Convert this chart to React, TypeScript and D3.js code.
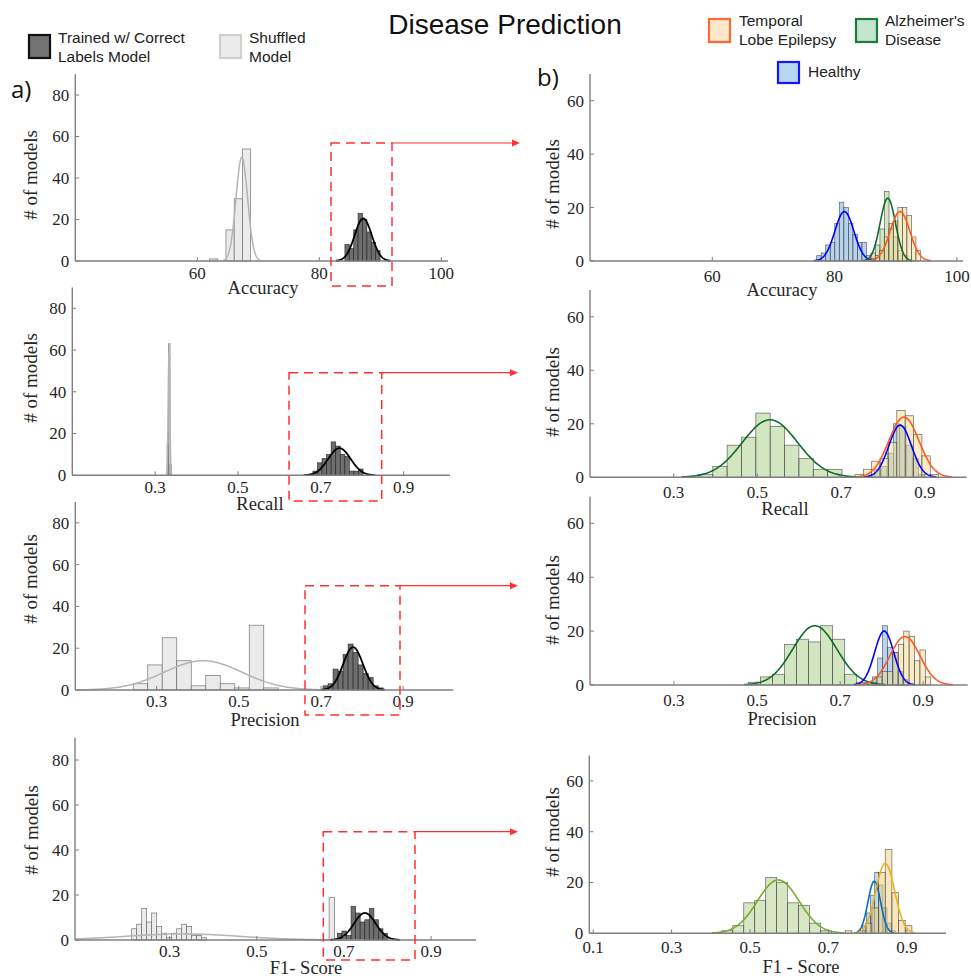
import React from "react";
import * as d3 from "d3";

// histogram bins: [left edge of first bin, bin width]; fit: [mean, sd, peak count]

// a) trained w/ correct labels vs shuffled
const accTrainedBins = [84.2, 0.72];
const accTrainedCounts = [8, 6, 15, 23, 20, 14, 9, 5];
const accTrainedFit = [87.2, 1.4, 20.5];
const accShuffledBins = [62.0, 1.35];
const accShuffledCounts = [1, 0, 15, 30, 54];
const accShuffledFit = [67.3, 0.95, 50];

const recTrainedBins = [0.681, 0.011];
const recTrainedCounts = [2, 6, 8, 10, 16, 14, 10, 9, 2, 2, 3];
const recTrainedFit = [0.745, 0.027, 13];
const recShuffledBins = [0.329, 0.0035];
const recShuffledCounts = [15, 63, 5];
const recShuffledFit = [0.3335, 0.002, 58];

const preTrainedBins = [0.705, 0.0122];
const preTrainedCounts = [2, 3, 10, 9, 17, 22, 18, 12, 8, 6, 2, 1];
const preTrainedFit = [0.778, 0.024, 20.5];
const preShuffledBins = [0.243, 0.0353];
const preShuffledCounts = [3, 12, 25, 14, 2, 7, 3, 1, 31, 1];
const preShuffledFit = [0.413, 0.095, 14];

const f1TrainedBins = [0.685, 0.01046];
const f1TrainedCounts = [3, 4, 2, 15, 12, 8, 9, 14, 9, 5, 3];
const f1TrainedFit = [0.748, 0.025, 12];
const f1ShuffledBins = [0.213, 0.01147];
const f1ShuffledCounts = [5, 7, 14, 8, 12, 6, 3, 1, 3, 5, 7, 6, 2, 2, 1];
const f1ShuffledBins2 = [0.666, 0.0125];
const f1ShuffledCounts2 = [19];
const f1ShuffledFit = [0.33, 0.13, 2.7];

// b) per disease
const accHealthyBins = [77.07, 0.74];
const accHealthyCounts = [2, 3, 6, 7, 14, 22, 20, 14, 10, 7, 7];
const accHealthyFit = [81.6, 1.55, 18.5];
const accAdBins = [85.2, 0.74];
const accAdCounts = [2, 3, 6, 12, 26, 14, 9, 4, 2];
const accAdFit = [88.7, 1.25, 23.5];
const accTleBins = [85.9, 0.74];
const accTleCounts = [1, 2, 4, 9, 12, 15, 20, 20, 17, 9, 4];
const accTleFit = [90.7, 1.6, 18.5];

const recHealthyBins = [0.765, 0.015];
const recHealthyCounts = [1, 3, 4, 9, 20, 19, 12, 7, 1];
const recHealthyFit = [0.841, 0.027, 19.5];
const recAdBins = [0.359, 0.0343];
const recAdCounts = [1, 4, 12, 15, 24, 19, 12, 7, 3, 3];
const recAdFit = [0.53, 0.066, 21.5];
const recTleBins = [0.733, 0.02];
const recTleCounts = [1, 3, 6, 7, 13, 25, 23, 16, 8, 1];
const recTleFit = [0.85, 0.036, 22.5];

const preHealthyBins = [0.766, 0.012];
const preHealthyCounts = [1, 3, 10, 22, 14, 12, 5, 2];
const preHealthyFit = [0.806, 0.023, 20];
const preAdBins = [0.479, 0.029];
const preAdCounts = [1, 3, 4, 15, 17, 16, 22, 17, 4, 1];
const preAdFit = [0.639, 0.053, 22];
const preTleBins = [0.775, 0.013];
const preTleCounts = [1, 3, 5, 5, 12, 15, 20, 18, 9, 13, 3];
const preTleFit = [0.856, 0.036, 18];

const f1HealthyBins = [0.776, 0.0105];
const f1HealthyCounts = [1, 3, 8, 15, 24, 19, 10, 4, 1];
const f1HealthyFit = [0.817, 0.016, 20.5];
const f1AdBins = [0.428, 0.028];
const f1AdCounts = [1, 3, 12, 13, 22, 20, 12, 11, 4, 1];
const f1AdFit = [0.572, 0.053, 21];
const f1TleBins = [0.743, 0.017];
const f1TleCounts = [1, 0, 1, 4, 10, 24, 33, 16, 5, 3];
const f1TleFit = [0.845, 0.024, 27.5];

const leftYTicks = [0, 20, 40, 60, 80];
const rightYTicks = [0, 20, 40, 60];
const accTicks = [60, 80, 100];
const rateTicks = [0.3, 0.5, 0.7, 0.9];
const f1RightTicks = [0.1, 0.3, 0.5, 0.7, 0.9];

const SERIF = "'Liberation Serif', 'Times New Roman', serif";
const SANS = "'Liberation Sans', Arial, sans-serif";
const TXT = "#262626";
const AXIS = "#808080";
const RED = "#ff3030";

const trained = { fill: "#6e6e6e", fillOpacity: 1, stroke: "#1a1a1a", curve: "#000", curveWidth: 1.8 };
const shuffled = { fill: "#ebebeb", fillOpacity: 1, stroke: "#555", curve: "#b4b4b4", curveWidth: 1.5 };
const healthy = { fill: "#6fa8dc", fillOpacity: 0.5, stroke: "#444", curve: "#0000ff", curveWidth: 1.6 };
const ad = { fill: "#a8cc84", fillOpacity: 0.5, stroke: "#444", curve: "#106b2c", curveWidth: 1.6 };
const tle = { fill: "#f3d98c", fillOpacity: 0.5, stroke: "#444", curve: "#ff5a1f", curveWidth: 1.6 };
const healthyF1 = { ...healthy, fill: "#80b2de", curve: "#0072bd" };
const adF1 = { ...ad, fill: "#b0d08a", curve: "#77ac30" };
const tleF1 = { ...tle, fill: "#f2cf78", curve: "#edb120" };

type Style = typeof trained;
type Series = { bins: number[][]; counts: number[][]; fit: number[]; style: Style };
type PanelCfg = {
  xDomain: number[]; xRange: number[]; yMax: number; yRange: number[];
  xTicks: number[]; yTicks: number[]; xLabel: string; xLabelPos: number[];
  yLabelPos: number[]; tickGap: number; series: Series[];
  box?: number[]; arrowTo?: number;
};

const s = (bins: number[][], counts: number[][], fit: number[], style: Style): Series => ({ bins, counts, fit, style });

const panels: PanelCfg[] = [
  {
    xDomain: [40, 101.1], xRange: [75.3, 448], yMax: 90, yRange: [261, 74.3],
    xTicks: accTicks, yTicks: leftYTicks, xLabel: "Accuracy", xLabelPos: [263, 294], yLabelPos: [30, 175], tickGap: 18,
    series: [s([accShuffledBins], [accShuffledCounts], accShuffledFit, shuffled), s([accTrainedBins], [accTrainedCounts], accTrainedFit, trained)],
    box: [331, 143, 392, 286], arrowTo: 520,
  },
  {
    xDomain: [0.1, 1.012], xRange: [72.3, 450], yMax: 90, yRange: [475.3, 287.4],
    xTicks: rateTicks, yTicks: leftYTicks, xLabel: "Recall", xLabelPos: [260, 510], yLabelPos: [30, 378], tickGap: 18,
    series: [s([recShuffledBins], [recShuffledCounts], recShuffledFit, shuffled), s([recTrainedBins], [recTrainedCounts], recTrainedFit, trained)],
    box: [289, 372.7, 381.7, 501], arrowTo: 518,
  },
  {
    xDomain: [0.102, 1.022], xRange: [75.3, 453.3], yMax: 90, yRange: [690, 501.9],
    xTicks: rateTicks, yTicks: leftYTicks, xLabel: "Precision", xLabelPos: [265, 726], yLabelPos: [30, 579], tickGap: 17,
    series: [s([preShuffledBins], [preShuffledCounts], preShuffledFit, shuffled), s([preTrainedBins], [preTrainedCounts], preTrainedFit, trained)],
    box: [305, 585.7, 400, 715], arrowTo: 518,
  },
  {
    xDomain: [0.083, 1.003], xRange: [75, 476], yMax: 90, yRange: [940, 737.5],
    xTicks: rateTicks, yTicks: leftYTicks, xLabel: "F1- Score", xLabelPos: [306, 974], yLabelPos: [31, 830], tickGap: 16.5,
    series: [
      s([f1ShuffledBins, f1ShuffledBins2], [f1ShuffledCounts, f1ShuffledCounts2], f1ShuffledFit, shuffled),
      s([f1TrainedBins], [f1TrainedCounts], f1TrainedFit, trained),
    ],
    box: [323.3, 831.7, 415, 960], arrowTo: 518,
  },
  {
    xDomain: [40, 101], xRange: [590, 963], yMax: 70, yRange: [261, 74],
    xTicks: accTicks, yTicks: rightYTicks, xLabel: "Accuracy", xLabelPos: [782, 296], yLabelPos: [552, 184], tickGap: 21,
    series: [
      s([accHealthyBins], [accHealthyCounts], accHealthyFit, healthy),
      s([accAdBins], [accAdCounts], accAdFit, ad),
      s([accTleBins], [accTleCounts], accTleFit, tle),
    ],
  },
  {
    xDomain: [0.1, 1.0], xRange: [590, 966.7], yMax: 70, yRange: [477.3, 290],
    xTicks: rateTicks, yTicks: rightYTicks, xLabel: "Recall", xLabelPos: [785, 515], yLabelPos: [552, 392], tickGap: 21,
    series: [
      s([recAdBins], [recAdCounts], recAdFit, ad),
      s([recHealthyBins], [recHealthyCounts], recHealthyFit, healthy),
      s([recTleBins], [recTleCounts], recTleFit, tle),
    ],
  },
  {
    xDomain: [0.098, 1.007], xRange: [590, 967.7], yMax: 70, yRange: [685, 496.4],
    xTicks: rateTicks, yTicks: rightYTicks, xLabel: "Precision", xLabelPos: [782, 725], yLabelPos: [552, 600], tickGap: 21,
    series: [
      s([preAdBins], [preAdCounts], preAdFit, ad),
      s([preHealthyBins], [preHealthyCounts], preHealthyFit, healthy),
      s([preTleBins], [preTleCounts], preTleFit, tle),
    ],
  },
  {
    xDomain: [0.09, 1.0], xRange: [589.3, 946], yMax: 70, yRange: [933.3, 755.5],
    xTicks: f1RightTicks, yTicks: rightYTicks, xLabel: "F1 - Score", xLabelPos: [801, 973], yLabelPos: [552, 832], tickGap: 20,
    series: [
      s([f1AdBins], [f1AdCounts], f1AdFit, adF1),
      s([f1HealthyBins], [f1HealthyCounts], f1HealthyFit, healthyF1),
      s([f1TleBins], [f1TleCounts], f1TleFit, tleF1),
    ],
  },
];

function Panel({ p }: { p: PanelCfg }) {
  const x = d3.scaleLinear().domain(p.xDomain).range(p.xRange);
  const y = d3.scaleLinear().domain([0, p.yMax]).range(p.yRange);
  const [x0, x1] = p.xRange;
  const base = y(0);

  const bars = p.series.map((ser, si) => (
    <g key={"b" + si}>
      {ser.bins.map((b, gi) =>
        ser.counts[gi].map((c, i) => {
          if (!c) return null;
          const l = b[0] + i * b[1];
          return (
            <rect key={gi + "-" + i} x={x(l)} y={y(c)} width={x(l + b[1]) - x(l)} height={base - y(c)}
              fill={ser.style.fill} fillOpacity={ser.style.fillOpacity}
              stroke={ser.style.stroke} strokeOpacity={0.8} strokeWidth={0.7} />
          );
        })
      )}
    </g>
  ));

  const curves = p.series.map((ser, si) => {
    const [mu, sd, peak] = ser.fit;
    const lo = Math.max(p.xDomain[0], mu - 3.2 * sd);
    const hi = Math.min(p.xDomain[1], mu + 3.2 * sd);
    const pts = d3.range(161).map((i) => lo + ((hi - lo) * i) / 160);
    const line = d3.line<number>()
      .x((v) => x(v))
      .y((v) => y(peak * Math.exp(-0.5 * ((v - mu) / sd) ** 2)));
    return <path key={"c" + si} d={line(pts) || ""} fill="none" stroke={ser.style.curve} strokeWidth={ser.style.curveWidth} />;
  });

  return (
    <g>
      {bars}
      {curves}
      <line x1={x0} x2={x1} y1={base} y2={base} stroke={AXIS} strokeWidth={1.4} />
      <line x1={x0} x2={x0} y1={base} y2={p.yRange[1]} stroke={AXIS} strokeWidth={1.4} />
      {p.xTicks.map((t) => (
        <g key={"xt" + t}>
          <line x1={x(t)} x2={x(t)} y1={base} y2={base - 4} stroke={AXIS} strokeWidth={1} />
          <text x={x(t)} y={base + p.tickGap} textAnchor="middle" fontFamily={SERIF} fontSize={17} fill={TXT}>{t}</text>
        </g>
      ))}
      {p.yTicks.map((t) => (
        <g key={"yt" + t}>
          <line x1={x0} x2={x0 + 4} y1={y(t)} y2={y(t)} stroke={AXIS} strokeWidth={1} />
          <text x={x0 - 6} y={y(t)} dy="0.35em" textAnchor="end" fontFamily={SERIF} fontSize={17} fill={TXT}>{t}</text>
        </g>
      ))}
      <text x={p.xLabelPos[0]} y={p.xLabelPos[1]} textAnchor="middle" fontFamily={SERIF} fontSize={18.5} fill={TXT}>{p.xLabel}</text>
      <text transform={`translate(${p.yLabelPos[0]},${p.yLabelPos[1]}) rotate(-90)`} dy="0.35em" textAnchor="middle"
        fontFamily={SERIF} fontSize={19} fill={TXT}># of models</text>
      {p.box && (
        <g>
          <rect x={p.box[0]} y={p.box[1]} width={p.box[2] - p.box[0]} height={p.box[3] - p.box[1]}
            fill="none" stroke={RED} strokeWidth={1.5} strokeDasharray="9,6" />
          <line x1={p.box[2]} x2={(p.arrowTo || 0) - 7} y1={p.box[1]} y2={p.box[1]} stroke={RED} strokeWidth={1.2} />
          <path d={`M${p.arrowTo},${p.box[1]} l-8,-3.5 l0,7 z`} fill={RED} />
        </g>
      )}
    </g>
  );
}

function LegendBox({ x, y, w, h, fill, stroke }: { x: number; y: number; w: number; h: number; fill: string; stroke: string }) {
  return <rect x={x} y={y} width={w} height={h} fill={fill} stroke={stroke} strokeWidth={2.2} />;
}

export default function App() {
  return (
    <svg width={971} height={978} style={{ position: "absolute", left: 0, top: 0, background: "#fff" }}>
      <rect width={971} height={978} fill="#fff" />
      <text x={505} y={34} textAnchor="middle" fontFamily={SANS} fontSize={28} fill="#111">Disease Prediction</text>

      <LegendBox x={29} y={35} w={21} h={23} fill="#737373" stroke="#111" />
      <text x={58} y={43} fontFamily={SANS} fontSize={15.5} fill="#222">Trained w/ Correct</text>
      <text x={58} y={62} fontFamily={SANS} fontSize={15.5} fill="#222">Labels Model</text>
      <LegendBox x={220} y={35} w={21} h={23} fill="#ebebeb" stroke="#cfcfcf" />
      <text x={249} y={43} fontFamily={SANS} fontSize={15.5} fill="#222">Shuffled</text>
      <text x={249} y={62} fontFamily={SANS} fontSize={15.5} fill="#222">Model</text>

      <LegendBox x={709} y={19} w={21} h={23} fill="#fde8cc" stroke="#ff6a30" />
      <text x={739} y={26} fontFamily={SANS} fontSize={15.5} fill="#222">Temporal</text>
      <text x={739} y={45} fontFamily={SANS} fontSize={15.5} fill="#222">Lobe Epilepsy</text>
      <LegendBox x={856} y={19} w={21} h={23} fill="#c2e5cc" stroke="#1e7a3c" />
      <text x={885} y={26} fontFamily={SANS} fontSize={15.5} fill="#222">Alzheimer's</text>
      <text x={885} y={45} fontFamily={SANS} fontSize={15.5} fill="#222">Disease</text>
      <LegendBox x={778} y={62} w={21} h={21} fill="#b9d7ef" stroke="#1515ff" />
      <text x={808} y={77} fontFamily={SANS} fontSize={15.5} fill="#222">Healthy</text>

      <text x={11} y={98} fontFamily="'Open Sans', sans-serif" fontSize={24} fill="#111">a)</text>
      <text x={537} y={86} fontFamily="'Open Sans', sans-serif" fontSize={24} fill="#111">b)</text>

      {panels.map((p, i) => <Panel key={i} p={p} />)}
    </svg>
  );
}
